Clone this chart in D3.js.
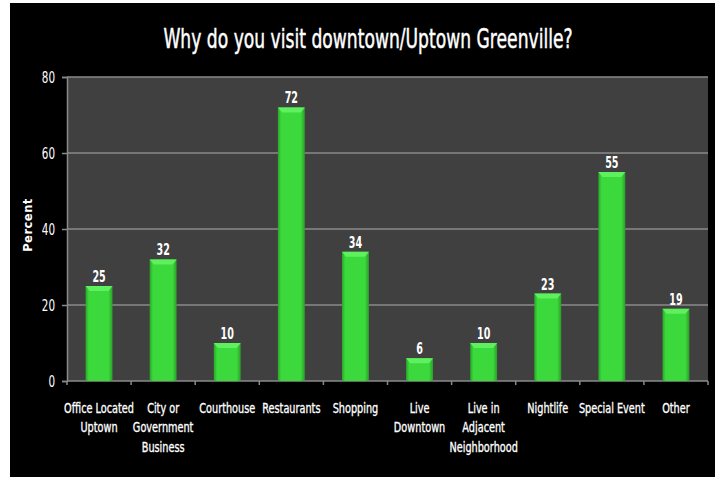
<!DOCTYPE html>
<html>
<head>
<meta charset="utf-8">
<title>Why do you visit downtown/Uptown Greenville?</title>
<script src="https://d3js.org/d3.v7.min.js"></script>
<style>
  body { margin: 0; background: #fff; }
  svg { display: block; }
  text { font-family: "DejaVu Sans", sans-serif; }
</style>
</head>
<body>
<script>
// data
var categories = [
  ["Office Located", "Uptown"],
  ["City or", "Government", "Business"],
  ["Courthouse"],
  ["Restaurants"],
  ["Shopping"],
  ["Live", "Downtown"],
  ["Live in", "Adjacent", "Neighborhood"],
  ["Nightlife"],
  ["Special Event"],
  ["Other"]
];
var values = [25, 32, 10, 72, 34, 6, 10, 23, 55, 19];
var yTicks = [0, 20, 40, 60, 80];

var w = 715, h = 477;
var pl = 67, pr = 708, pt = 77, pb = 381; // plot area edges
var sq = 0.72; // horizontal squeeze to fake a condensed face

var svg = d3.select("body").append("svg").attr("width", w).attr("height", h);

// black card with a thin white strip at left/top
svg.append("rect").attr("x", 10).attr("y", 3).attr("width", w - 10).attr("height", h - 3).attr("fill", "#000");

var defs = svg.append("defs");
var grad = defs.append("linearGradient").attr("id", "barg").attr("x1", "0").attr("x2", "1").attr("y1", "0").attr("y2", "0");
grad.append("stop").attr("offset", "0%").attr("stop-color", "#2aa52a");
grad.append("stop").attr("offset", "12%").attr("stop-color", "#3bd93b");
grad.append("stop").attr("offset", "85%").attr("stop-color", "#3bd93b");
grad.append("stop").attr("offset", "100%").attr("stop-color", "#2a9e2a");

var x = d3.scaleBand().domain(d3.range(values.length)).range([pl, pr]).paddingInner(0.58).paddingOuter(0.29);
var xb = d3.scaleBand().domain(d3.range(values.length)).range([pl, pr]);
var y = d3.scaleLinear().domain([0, 80]).range([pb, pt]);

// plot area
svg.append("rect").attr("x", pl).attr("y", pt).attr("width", pr - pl).attr("height", pb - pt).attr("fill", "#404040");

// gridlines
svg.selectAll("line.grid").data(yTicks.slice(1)).enter().append("line")
  .attr("x1", pl).attr("x2", pr)
  .attr("y1", function(d) { return y(d); }).attr("y2", function(d) { return y(d); })
  .attr("stroke", "#8a8a8a").attr("stroke-width", 1.5);

// y axis
var yAxis = svg.append("g").attr("transform", "translate(" + pl + ",0)")
  .call(d3.axisLeft(y).tickValues(yTicks).tickSize(5).tickPadding(9));
yAxis.select(".domain").attr("stroke", "#8a8a8a").attr("stroke-width", 1.5);
yAxis.selectAll(".tick line").attr("stroke", "#8a8a8a").attr("stroke-width", 1.5);
yAxis.selectAll("text")
  .attr("font-family", "DejaVu Sans, sans-serif")
  .attr("fill", "#fff").attr("font-size", "16px")
  .attr("x", -12 / 0.65).attr("transform", "scale(0.65,1)");

// x axis line and ticks at band edges
svg.append("line").attr("x1", pl).attr("x2", pr).attr("y1", pb).attr("y2", pb)
  .attr("stroke", "#8a8a8a").attr("stroke-width", 1.5);
svg.selectAll("line.xt").data(d3.range(values.length + 1)).enter().append("line")
  .attr("x1", function(i) { return i < values.length ? xb(i) : pr; })
  .attr("x2", function(i) { return i < values.length ? xb(i) : pr; })
  .attr("y1", pb).attr("y2", pb + 4)
  .attr("stroke", "#8a8a8a").attr("stroke-width", 1.5);

// bars
svg.selectAll("rect.bar").data(values).enter().append("rect")
  .attr("x", function(d, i) { return x(i); })
  .attr("y", function(d) { return y(d); })
  .attr("width", x.bandwidth())
  .attr("height", function(d) { return pb - y(d); })
  .attr("fill", "url(#barg)");

// lighter bevel at the top of each bar
svg.selectAll("path.bevel").data(values).enter().append("path")
  .attr("d", function(d, i) {
    var x0 = x(i), x1 = x(i) + x.bandwidth(), yt = y(d);
    return "M" + x0 + "," + yt + "L" + x1 + "," + yt + "L" + (x1 - 4) + "," + (yt + 5) + "L" + (x0 + 4) + "," + (yt + 5) + "Z";
  })
  .attr("fill", "#5ef05e");

// value labels
svg.selectAll("text.val").data(values).enter().append("text")
  .attr("transform", function(d, i) {
    return "translate(" + (x(i) + x.bandwidth() / 2) + "," + (y(d) - 4) + ") scale(0.64,1)";
  })
  .attr("text-anchor", "middle")
  .attr("font-size", "15px").attr("font-weight", "bold").attr("fill", "#fff")
  .text(function(d) { return d; });

// category labels
var cl = svg.selectAll("text.cat").data(categories).enter().append("text")
  .attr("text-anchor", "middle")
  .attr("font-size", "13.5px").attr("fill", "#fff")
  .attr("stroke", "#fff").attr("stroke-width", 0.35)
  .attr("transform", function(d, i) {
    return "translate(" + (xb(i) + xb.bandwidth() / 2) + ",413) scale(" + sq + ",1)";
  });
cl.selectAll("tspan").data(function(d) { return d; }).enter().append("tspan")
  .attr("x", 0)
  .attr("dy", function(d, i) { return i === 0 ? 0 : 19.5; })
  .text(function(d) { return d; });

// axis title
svg.append("text")
  .attr("transform", "translate(32,225) rotate(-90)")
  .attr("text-anchor", "middle")
  .attr("font-size", "11.5px").attr("font-weight", "bold").attr("fill", "#fff")
  .attr("letter-spacing", "0.5px")
  .text("Percent");

// title
svg.append("text")
  .attr("transform", "translate(368,48) scale(0.66,1)")
  .attr("text-anchor", "middle")
  .attr("font-size", "26px").attr("fill", "#fff")
  .attr("stroke", "#fff").attr("stroke-width", 0.5)
  .text("Why do you visit downtown/Uptown Greenville?");
</script>
</body>
</html>
